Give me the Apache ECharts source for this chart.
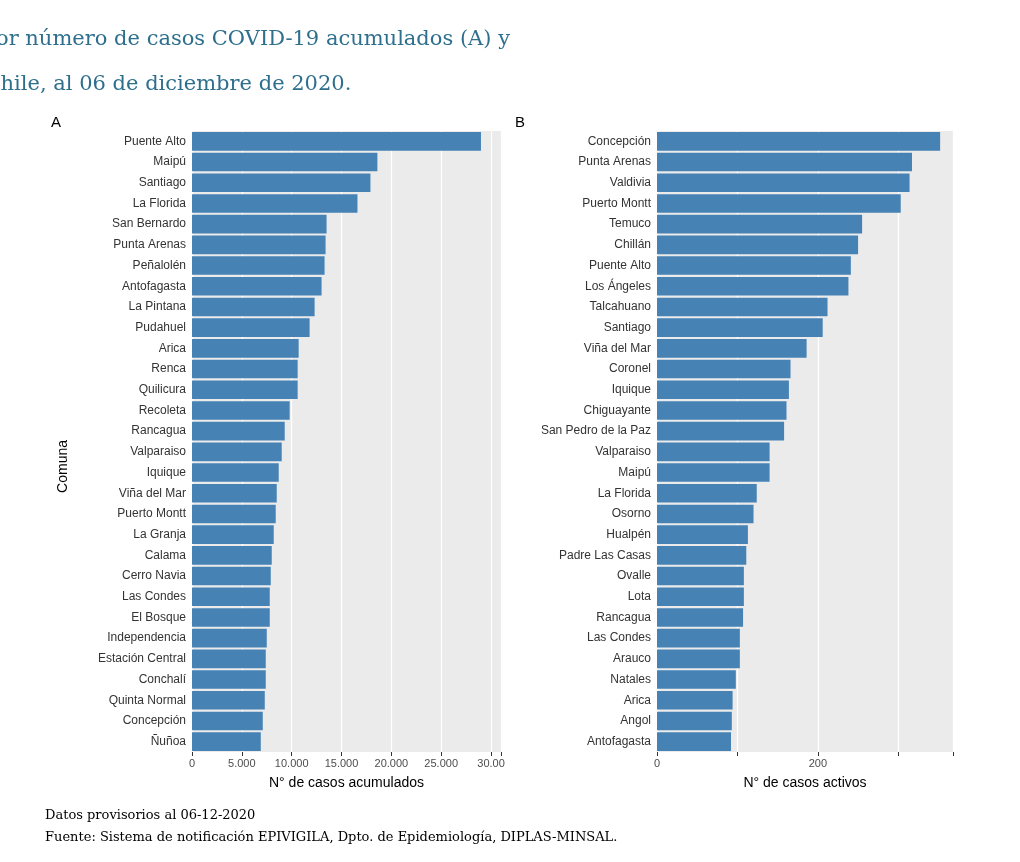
<!DOCTYPE html>
<html><head><meta charset="utf-8">
<script src="https://cdn.jsdelivr.net/npm/echarts@6/dist/echarts.min.js"></script>
<style>body{margin:0;background:#fff}#c{width:1020px;height:862px}</style>
</head><body><div id="c"></div>
<script>
const comunasA=["Puente Alto","Maipú","Santiago","La Florida","San Bernardo","Punta Arenas","Peñalolén","Antofagasta","La Pintana","Pudahuel","Arica","Renca","Quilicura","Recoleta","Rancagua","Valparaiso","Iquique","Viña del Mar","Puerto Montt","La Granja","Calama","Cerro Navia","Las Condes","El Bosque","Independencia","Estación Central","Conchalí","Quinta Normal","Concepción","Ñuñoa"];
const casosA=[28990,18600,17900,16600,13500,13400,13300,13000,12300,11800,10700,10600,10600,9800,9300,9000,8700,8500,8400,8200,8000,7900,7800,7800,7500,7400,7400,7300,7100,6900];
const comunasB=["Concepción","Punta Arenas","Valdivia","Puerto Montt","Temuco","Chillán","Puente Alto","Los Ángeles","Talcahuano","Santiago","Viña del Mar","Coronel","Iquique","Chiguayante","San Pedro de la Paz","Valparaiso","Maipú","La Florida","Osorno","Hualpén","Padre Las Casas","Ovalle","Lota","Rancagua","Las Condes","Arauco","Natales","Arica","Angol","Antofagasta"];
const casosB=[352,317,314,303,255,250,241,238,212,206,186,166,164,161,158,140,140,124,120,113,111,108,108,107,103,103,98,94,93,92];
const ticksA=["0","5.000","10.000","15.000","20.000","25.000","30.00"];
const ticksB={0:"0",200:"200"};

const ch=echarts.init(document.getElementById('c'));
const font="Liberation Sans";
function yAx(idx,cats){return{type:'category',gridIndex:idx,data:cats,inverse:true,
 axisLine:{show:false},axisTick:{length:4,lineStyle:{color:'#333'}},
 axisLabel:{color:'#333',fontSize:12,fontFamily:font,margin:6},
 splitLine:{show:false}};}
ch.setOption({
 animation:false,
 title:[{text:'Figura 16. Comunas (30) con mayor número de casos COVID-19 acumulados (A) y\ncasos activos (B). Chile, al 06 de diciembre de 2020.',left:'center',top:12,
  textStyle:{fontFamily:'DejaVu Serif',fontWeight:'normal',fontSize:21,color:'#2e6f8e',lineHeight:45},textAlign:'center'},
  {text:'A',left:46,top:110,textStyle:{fontFamily:font,fontWeight:'normal',fontSize:15,color:'#000'}},
  {text:'B',left:510,top:110,textStyle:{fontFamily:font,fontWeight:'normal',fontSize:15,color:'#000'}},
  {text:'Datos provisorios al 06-12-2020\nFuente: Sistema de notificación EPIVIGILA, Dpto. de Epidemiología, DIPLAS-MINSAL.',left:40,top:800,
   textStyle:{fontFamily:'DejaVu Serif',fontWeight:'normal',fontSize:13,color:'#000',lineHeight:22}}],
 grid:[{left:192,width:309,top:131,height:621,backgroundColor:'#EBEBEB',show:true,borderWidth:0},
       {left:657,width:296,top:131,height:621,backgroundColor:'#EBEBEB',show:true,borderWidth:0}],
 xAxis:[{type:'value',gridIndex:0,min:0,max:31000,interval:5000,
   name:'N° de casos acumulados',nameLocation:'middle',nameGap:24,nameTextStyle:{fontFamily:font,fontSize:14,color:'#000'},
   axisLine:{show:false},axisTick:{show:true,length:4,lineStyle:{color:'#333'}},
   axisLabel:{color:'#4d4d4d',fontSize:11,fontFamily:font,margin:6,formatter:v=>ticksA[v/5000]||''},
   splitLine:{lineStyle:{color:'#fff',width:1.2}}},
  {type:'value',gridIndex:1,min:0,max:368,interval:100,
   name:'N° de casos activos',nameLocation:'middle',nameGap:24,nameTextStyle:{fontFamily:font,fontSize:14,color:'#000'},
   axisLine:{show:false},axisTick:{show:true,length:4,lineStyle:{color:'#333'},interval:(i,v)=>v%200===0},
   axisLabel:{color:'#4d4d4d',fontSize:11,fontFamily:font,margin:6,formatter:v=>ticksB[v]||''},
   splitLine:{lineStyle:{color:'#fff',width:1.2}}}],
 yAxis:[yAx(0,comunasA),yAx(1,comunasB)],
 series:[{type:'bar',xAxisIndex:0,yAxisIndex:0,data:casosA,barCategoryGap:'10%',itemStyle:{color:'#4682B4'}},
         {type:'bar',xAxisIndex:1,yAxisIndex:1,data:casosB,barCategoryGap:'10%',itemStyle:{color:'#4682B4'}}]
});
ch.setOption({graphic:[{type:'text',left:56,top:440,rotation:Math.PI/2,style:{text:'Comuna',font:'14px Liberation Sans',fill:'#000'}}]});
</script></body></html>
